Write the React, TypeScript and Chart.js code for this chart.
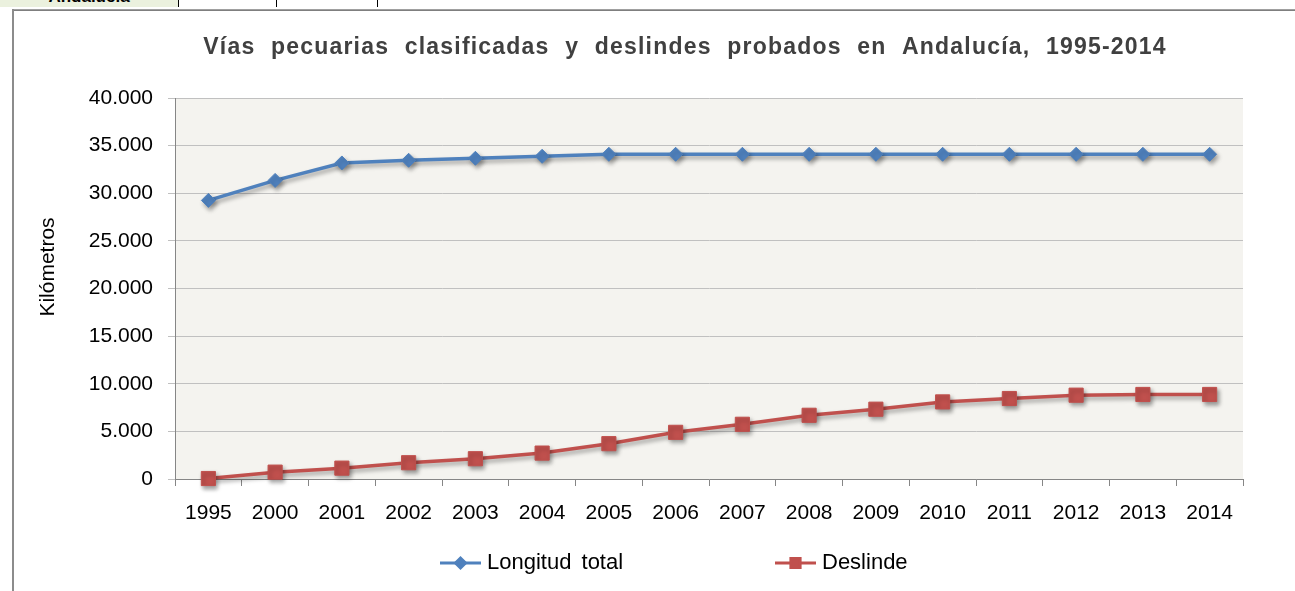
import React, { useEffect, useRef } from 'react';
import { Chart, registerables } from 'chart.js';
import { drawPoint } from 'chart.js/helpers';

Chart.register(...registerables);

const years = ['1995', '2000', '2001', '2002', '2003', '2004', '2005', '2006', '2007', '2008', '2009', '2010', '2011', '2012', '2013', '2014'];
const longitudTotal = [29250, 31350, 33180, 33460, 33670, 33880, 34090, 34090, 34090, 34090, 34090, 34090, 34090, 34090, 34090, 34090];
const deslinde = [50, 720, 1140, 1710, 2130, 2720, 3710, 4900, 5745, 6690, 7330, 8095, 8450, 8800, 8875, 8875];
const seriesNames = ['Longitud total', 'Deslinde'];
const chartTitle = 'Vías pecuarias clasificadas y deslindes probados en Andalucía, 1995-2014';
const yAxisTitle = 'Kilómetros';
const yMin = 0;
const yMax = 40000;
const yStep = 5000;
const tableCellLabel = 'Andalucía';

const BLUE = '#4F81BD';
const RED = '#C0504D';
const FONT = '"Liberation Sans", Arial, sans-serif';

const fmt = (v: number) => String(Math.round(v)).replace(/\B(?=(\d{3})+(?!\d))/g, '.');

const bgPlugin = {
  id: 'plotBg',
  beforeDraw(chart: any) {
    const { ctx, chartArea } = chart;
    ctx.save();
    ctx.fillStyle = '#F4F3EF';
    ctx.fillRect(chartArea.left, chartArea.top, chartArea.right - chartArea.left, chartArea.bottom - chartArea.top);
    ctx.restore();
  },
};

const shadowPlugin = {
  id: 'shadow',
  beforeDatasetsDraw(chart: any) {
    const ctx = chart.ctx;
    ctx.save();
    ctx.shadowColor = 'rgba(0,0,0,0.35)';
    ctx.shadowBlur = 4;
    ctx.shadowOffsetX = 2;
    ctx.shadowOffsetY = 3;
  },
  afterDatasetsDraw(chart: any) {
    chart.ctx.restore();
  },
};

const textPlugin = {
  id: 'texts',
  afterDraw(chart: any) {
    const ctx = chart.ctx;
    ctx.save();
    // Title
    ctx.fillStyle = '#404040';
    ctx.font = `bold 23px ${FONT}`;
    ctx.textAlign = 'center';
    ctx.textBaseline = 'middle';
    (ctx as any).letterSpacing = '1.2px';
    (ctx as any).wordSpacing = '8px';
    ctx.fillText(chartTitle, 685, 48);
    (ctx as any).letterSpacing = '0px';
    (ctx as any).wordSpacing = '0px';
    // Y axis title
    ctx.save();
    ctx.translate(48, 267);
    ctx.rotate(-Math.PI / 2);
    ctx.fillStyle = '#000';
    ctx.font = `21px ${FONT}`;
    ctx.textAlign = 'center';
    ctx.textBaseline = 'middle';
    ctx.fillText(yAxisTitle, 0, 0);
    ctx.restore();
    // Legend
    const items = [
      { x: 440, ds: chart.data.datasets[0], markerR: 5 },
      { x: 775, ds: chart.data.datasets[1], markerR: 6.5 },
    ];
    const y = 563;
    items.forEach((it) => {
      ctx.strokeStyle = it.ds.borderColor;
      ctx.lineWidth = 3;
      ctx.beginPath();
      ctx.moveTo(it.x, y);
      ctx.lineTo(it.x + 41, y);
      ctx.stroke();
      ctx.fillStyle = it.ds.borderColor;
      drawPoint(ctx, { pointStyle: it.ds.pointStyle, radius: it.markerR, borderWidth: 1, rotation: 0 } as any, it.x + 20.5, y);
      ctx.fillStyle = '#000';
      ctx.font = `22px ${FONT}`;
      ctx.textBaseline = 'middle';
      ctx.textAlign = 'left';
      (ctx as any).wordSpacing = '4px';
      ctx.fillText(it.ds.label, it.x + 47, y);
      (ctx as any).wordSpacing = '0px';
    });
    ctx.restore();
  },
};

function ChartView() {
  const ref = useRef<HTMLCanvasElement | null>(null);
  useEffect(() => {
    if (!ref.current) return;
    const chart = new Chart(ref.current, {
      type: 'line',
      data: {
        labels: years,
        datasets: [
          {
            label: seriesNames[0],
            data: longitudTotal,
            borderColor: BLUE,
            backgroundColor: BLUE,
            pointBackgroundColor: BLUE,
            pointBorderColor: BLUE,
            borderWidth: 3.5,
            pointStyle: 'rectRot',
            pointRadius: 7,
            pointBorderWidth: 1,
            tension: 0,
            clip: false,
          } as any,
          {
            label: seriesNames[1],
            data: deslinde,
            borderColor: RED,
            backgroundColor: RED,
            pointBackgroundColor: RED,
            pointBorderColor: RED,
            borderWidth: 3.5,
            pointStyle: 'rect',
            pointRadius: 10,
            pointBorderWidth: 1,
            tension: 0,
            clip: false,
          } as any,
        ],
      },
      options: {
        animation: false,
        responsive: true,
        maintainAspectRatio: false,
        layout: { padding: { left: 20, right: 52, top: 98, bottom: 62 } },
        plugins: {
          legend: { display: false },
          tooltip: { enabled: false },
          title: { display: false },
        },
        scales: {
          x: {
            type: 'category',
            offset: true,
            grid: { display: true, drawOnChartArea: false, drawTicks: true, tickLength: 7, offset: true, color: '#868686' },
            border: { display: true, color: '#868686', width: 1 },
            ticks: { color: '#000', font: { family: FONT, size: 21 }, padding: 15, maxRotation: 0, autoSkip: false },
            afterFit: (s: any) => { s.height = 50; },
          },
          y: {
            min: yMin,
            max: yMax,
            ticks: { stepSize: yStep, color: '#000', font: { family: FONT, size: 21 }, padding: 15, callback: (v: any) => fmt(Number(v)) },
            grid: { color: '#C0C0C0', drawTicks: true, tickLength: 7, lineWidth: 1 },
            border: { display: true, color: '#868686', width: 1 },
            title: { display: false },
            afterFit: (s: any) => { s.width = 155; },
          },
        },
      },
      plugins: [bgPlugin, shadowPlugin, textPlugin],
    });
    return () => chart.destroy();
  }, []);
  return <canvas ref={ref} />;
}

export default function App() {
  return (
    <div style={{ position: 'fixed', left: 0, top: 0, width: 1295, height: 591, background: '#fff', overflow: 'hidden' }}>
      <div style={{ position: 'absolute', left: 0, top: 0, width: 178, height: 7, background: '#EBF1DE', borderRight: '1px solid #000', overflow: 'hidden' }}>
        <div style={{ position: 'absolute', left: 0, width: 178, bottom: 2, textAlign: 'center', fontFamily: FONT, fontWeight: 'bold', fontSize: 17, lineHeight: '17px', color: '#000' }}>{tableCellLabel}</div>
      </div>
      <div style={{ position: 'absolute', left: 276, top: 0, width: 1, height: 7, background: '#000' }} />
      <div style={{ position: 'absolute', left: 377, top: 0, width: 1, height: 7, background: '#000' }} />
      <div style={{ position: 'absolute', left: 12, top: 9, right: 0, height: 1, background: '#A0A0A0' }} />
      <div style={{ position: 'absolute', left: 12, top: 10, right: 0, height: 1, background: '#7F7F7F' }} />
      <div style={{ position: 'absolute', left: 12, top: 9, width: 2, bottom: 0, background: '#8C8C8C' }} />
      <div style={{ position: 'absolute', left: 0, top: 0, width: 1295, height: 591 }}>
        <ChartView />
      </div>
    </div>
  );
}
